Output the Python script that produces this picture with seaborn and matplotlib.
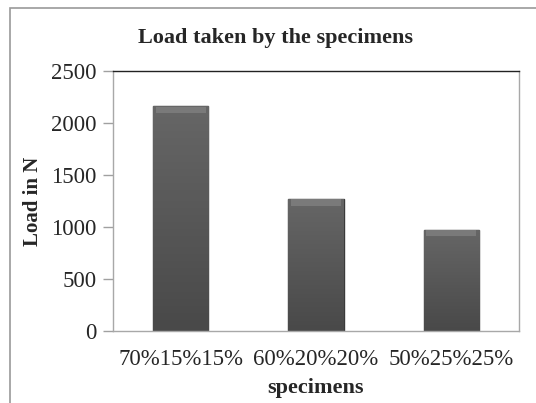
import matplotlib
matplotlib.use("Agg")
import numpy as np
import matplotlib.pyplot as plt
import seaborn as sns
from matplotlib.patches import Rectangle

# data
specimens = ["70%15%15%", "60%20%20%", "50%25%25%"]
load_n = [2160, 1270, 975]
y_ticks = [0, 500, 1000, 1500, 2000, 2500]

sns.set_style("white")
plt.rcParams["font.family"] = ["Liberation Serif", "DejaVu Serif"]

fig = plt.figure(figsize=(5.36, 4.03), dpi=100)
ax = fig.add_axes([113 / 536, 1 - 331 / 403, 406 / 536, 260 / 403])

sns.barplot(x=specimens, y=load_n, color="#5a5a5a", width=0.41,
            saturation=1, edgecolor="#3a3a3a", linewidth=1.0, ax=ax)

# soft vertical shading on the bars, like the Excel bevel look
grad = np.linspace(0, 1, 64).reshape(-1, 1)
cmap = matplotlib.colors.LinearSegmentedColormap.from_list(
    "bar", ["#494949", "#666666"])
for p in ax.patches[:]:
    x0, w, h = p.get_x(), p.get_width(), p.get_height()
    im = ax.imshow(grad, cmap=cmap, aspect="auto", origin="lower",
                   extent=[x0, x0 + w, 0, h], zorder=p.get_zorder() + 0.1)
    im.set_clip_path(p)
    ax.add_patch(Rectangle((x0 + 0.02, h - 65), w - 0.04, 60,
                           facecolor="#7a7a7a", edgecolor="none",
                           zorder=p.get_zorder() + 0.2))

ax.set_ylim(0, 2500)
ax.set_yticks(y_ticks)
ax.set_xlim(-0.5, 2.5)
ax.tick_params(axis="y", length=7, width=1, color="#a0a0a0", labelsize=16.5, pad=5,
               left=True)
ax.tick_params(axis="x", length=0, labelsize=16.5, pad=13)
ax.set_ylabel("Load in N", fontsize=15, fontweight="bold", labelpad=6)
ax.set_xlabel("specimens", fontsize=16, fontweight="bold", labelpad=6)

for side in ["left", "bottom", "right"]:
    ax.spines[side].set_color("#a8a8a8")
    ax.spines[side].set_linewidth(1.0)
ax.spines["top"].set_color("#222222")
ax.spines["top"].set_linewidth(1.0)

fig.text(276 / 536, 1 - 38 / 403, "Load taken by the specimens", ha="center",
         va="center", fontsize=16, fontweight="bold")

# outer chart frame
fig.patches.append(Rectangle((10 / 536, -0.1), 1.2, 1 - 8 / 403 + 0.1,
                             transform=fig.transFigure, fill=False,
                             edgecolor="#9a9a9a", linewidth=1.2))

fig.savefig("out.png", dpi=100)
